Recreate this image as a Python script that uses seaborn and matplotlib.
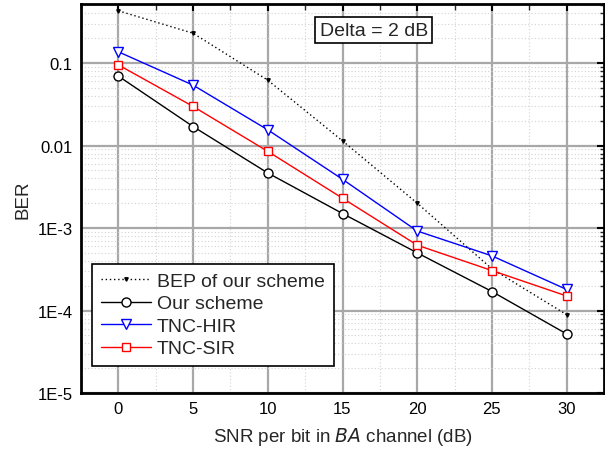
import numpy as np
import pandas as pd
import matplotlib
matplotlib.use("Agg")
import matplotlib.pyplot as plt
import matplotlib.ticker as mticker
import seaborn as sns

snr_db = [0, 5, 10, 15, 20, 25, 30]
bep_ours = [0.43, 0.23, 0.062, 0.0114, 0.0020, 3.2e-4, 8.9e-5]
ber_ours = [0.0695, 0.017, 0.00465, 0.0015, 0.0005, 1.7e-4, 5.2e-5]
ber_hir = [0.137, 0.054, 0.0155, 0.0039, 0.00092, 4.6e-4, 1.8e-4]
ber_sir = [0.095, 0.0298, 0.0085, 0.0023, 6.2e-4, 3.05e-4, 1.5e-4]

series = ["BEP of our scheme", "Our scheme", "TNC-HIR", "TNC-SIR"]
values = [bep_ours, ber_ours, ber_hir, ber_sir]

df = pd.concat([pd.DataFrame({"snr": snr_db, "ber": v, "series": s})
                for s, v in zip(series, values)], ignore_index=True)

sns.set_theme(style="white")
plt.rcParams["font.family"] = ["Liberation Sans", "DejaVu Sans"]

fig = plt.figure(figsize=(6.05, 4.52), dpi=100)
ax = fig.add_axes([81 / 605, 1 - 394 / 452, (604 - 81) / 605, (394 - 5) / 452])

styles = {
    "BEP of our scheme": dict(color="black", ls=(0, (1, 2)), marker="v", ms=2.5, mfc="black"),
    "Our scheme": dict(color="black", ls="-", marker="o", ms=6.5, mfc="white"),
    "TNC-HIR": dict(color="blue", ls="-", marker="v", ms=7.5, mfc="white"),
    "TNC-SIR": dict(color="red", ls="-", marker="s", ms=6, mfc="white"),
}

for s in series:
    sub = df[df["series"] == s]
    st = styles[s]
    sns.lineplot(data=sub, x="snr", y="ber", ax=ax, label=s, color=st["color"],
                 linestyle=st["ls"], lw=1.0, marker=st["marker"], markersize=st["ms"],
                 markerfacecolor=st["mfc"], markeredgecolor=st["color"], markeredgewidth=1.0,
                 zorder=3)

ax.set_yscale("log")
ax.set_xlim(-2.5, 32.5)
ax.set_ylim(1e-5, 0.52)
ax.set_xticks(snr_db)
ax.xaxis.set_minor_locator(mticker.MultipleLocator(2.5))
ax.set_yticks([1e-5, 1e-4, 1e-3, 0.01, 0.1])
ax.set_yticklabels(["1E-5", "1E-4", "1E-3", "0.01", "0.1"])
ax.yaxis.set_minor_locator(mticker.LogLocator(base=10, subs=np.arange(2, 10)))
ax.yaxis.set_minor_formatter(mticker.NullFormatter())

ax.grid(True, which="major", color="#a8a8a8", lw=1.6, ls="-", zorder=0)
ax.grid(True, which="minor", color="#d2d2d2", lw=0.8, ls=(0, (1, 2)), zorder=0)
ax.set_axisbelow(True)

for sp in ax.spines.values():
    sp.set_color("black")
    sp.set_linewidth(2.0)

ax.tick_params(which="major", direction="in", length=5, width=1.5, top=True, right=True,
               labelsize=12, colors="black", pad=6)
ax.tick_params(which="minor", direction="in", length=3, width=1.0, top=True, right=True)
ax.tick_params(axis="x", which="minor", length=4)

ax.set_xlabel("SNR per bit in $\\it{BA}$ channel (dB)", fontsize=13.5, labelpad=6)
ax.set_ylabel("BER", fontsize=13.5, labelpad=4)

leg = ax.legend(loc="lower left", bbox_to_anchor=(0.021, 0.069), fontsize=14, frameon=True,
                fancybox=False, edgecolor="black", framealpha=1, borderpad=0.45,
                handlelength=2.6, handletextpad=0.3, labelspacing=0.25, borderaxespad=0)
leg.get_frame().set_linewidth(1.2)

ax.text(0.56, 0.933, "Delta = 2 dB", transform=ax.transAxes, fontsize=14,
        ha="center", va="center",
        bbox=dict(boxstyle="square,pad=0.22", fc="white", ec="black", lw=1.2))

fig.savefig("out.png", dpi=100)
